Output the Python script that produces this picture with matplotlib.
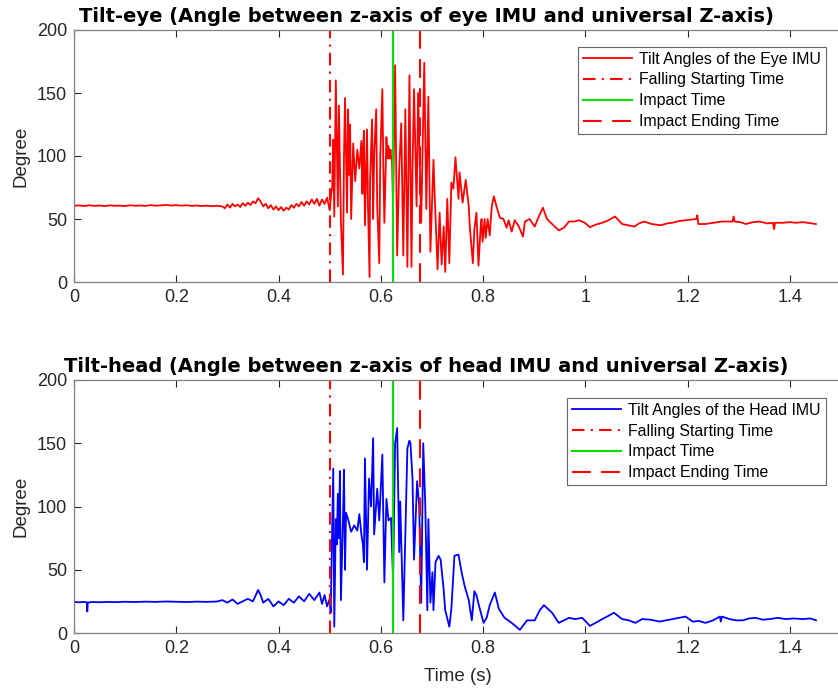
import numpy as np
import matplotlib
matplotlib.use('Agg')
import matplotlib.pyplot as plt

plt.rcParams['font.family'] = ['Liberation Sans', 'DejaVu Sans']

# Event times (s)
t_fall = 0.501
t_impact = 0.623
t_impact_end = 0.677

# Eye IMU tilt (time s, degree)
eye_t = [0.000, 0.010, 0.020, 0.030, 0.040, 0.050, 0.060, 0.070, 0.080, 0.090,
         0.100, 0.110, 0.120, 0.130, 0.140, 0.150, 0.160, 0.170, 0.180, 0.190,
         0.200, 0.210, 0.220, 0.230, 0.240, 0.250, 0.260, 0.270, 0.280, 0.290,
         0.295, 0.300, 0.305, 0.310, 0.315, 0.320, 0.325, 0.330, 0.335, 0.340,
         0.345, 0.350, 0.355, 0.360, 0.365, 0.370, 0.375, 0.380, 0.385, 0.390,
         0.395, 0.400, 0.405, 0.410, 0.415, 0.420, 0.425, 0.430, 0.435, 0.440,
         0.445, 0.450, 0.455, 0.460, 0.465, 0.470, 0.475, 0.480, 0.485, 0.490,
         0.495, 0.500, 0.503, 0.505, 0.507, 0.509, 0.512, 0.516, 0.518, 0.522,
         0.526, 0.528, 0.530, 0.534, 0.536, 0.538, 0.540, 0.542, 0.546, 0.550,
         0.554, 0.558, 0.562, 0.564, 0.565, 0.567, 0.569, 0.573, 0.575, 0.578,
         0.579, 0.583, 0.585, 0.587, 0.591, 0.593, 0.597, 0.599, 0.603, 0.605,
         0.607, 0.611, 0.613, 0.615, 0.617, 0.619, 0.620, 0.622, 0.624, 0.628,
         0.632, 0.636, 0.640, 0.644, 0.648, 0.652, 0.656, 0.660, 0.662, 0.665,
         0.670, 0.673, 0.679, 0.685, 0.689, 0.693, 0.697, 0.703, 0.705, 0.711,
         0.715, 0.719, 0.723, 0.726, 0.730, 0.734, 0.738, 0.742, 0.746, 0.752,
         0.754, 0.760, 0.766, 0.772, 0.774, 0.780, 0.783, 0.787, 0.791, 0.795,
         0.797, 0.799, 0.803, 0.805, 0.809, 0.813, 0.817, 0.821, 0.827, 0.833,
         0.840, 0.846, 0.850, 0.856, 0.862, 0.870, 0.878, 0.882, 0.891, 0.901,
         0.909, 0.917, 0.925, 0.935, 0.948, 0.958, 0.968, 0.978, 0.988, 0.999,
         1.009, 1.020, 1.033, 1.045, 1.058, 1.072, 1.084, 1.096, 1.105, 1.115,
         1.130, 1.147, 1.160, 1.170, 1.185, 1.196, 1.217, 1.219, 1.221, 1.235,
         1.250, 1.268, 1.288, 1.290, 1.292, 1.303, 1.314, 1.328, 1.341, 1.355,
         1.367, 1.369, 1.371, 1.386, 1.400, 1.412, 1.425, 1.435, 1.451]
eye_deg = [60.5, 60.8, 60.3, 60.9, 60.4, 60.7, 60.2, 60.8, 60.5, 60.6,
           60.3, 60.9, 60.5, 60.7, 60.4, 61.0, 60.6, 60.8, 61.1, 60.7,
           61.0, 60.6, 60.9, 60.4, 60.7, 60.3, 60.6, 60.2, 60.5, 60.0,
           58.5, 61.5, 59.0, 62.0, 60.0, 61.5, 59.5, 62.5, 60.5, 63.0,
           61.0, 64.0, 62.5, 66.5, 64.0, 60.0, 62.0, 58.5, 61.0, 57.5,
           60.0, 57.0, 59.5, 56.5, 59.0, 57.5, 61.0, 59.0, 62.0, 60.0,
           63.5, 60.5, 64.0, 61.5, 65.5, 62.0, 66.0, 60.5, 65.5, 62.0,
           67.0, 57.0, 70.0, 75.0, 113.0, 52.0, 160.0, 60.0, 140.0, 48.0,
           6.0, 100.0, 146.0, 55.0, 137.0, 85.0, 125.0, 50.0, 110.0, 80.0,
           105.0, 90.0, 112.0, 70.0, 100.0, 120.0, 45.0, 121.0, 60.0, 4.0,
           80.0, 129.0, 50.0, 100.0, 137.0, 60.0, 15.0, 100.0, 153.0, 90.0,
           47.0, 115.0, 98.0, 108.0, 98.0, 105.0, 100.0, 96.0, 60.0, 172.0,
           21.0, 90.0, 126.0, 21.0, 137.0, 12.0, 164.0, 12.0, 90.0, 153.0,
           60.0, 150.0, 47.0, 174.0, 58.0, 147.0, 24.0, 97.0, 73.0, 10.0,
           55.0, 14.0, 44.0, 8.0, 66.0, 15.0, 79.0, 74.0, 99.0, 66.0,
           87.0, 63.0, 81.0, 60.0, 44.0, 15.0, 42.0, 55.0, 13.0, 42.0,
           50.0, 32.0, 50.0, 35.0, 50.0, 37.0, 60.0, 68.0, 59.0, 51.0,
           50.0, 43.0, 49.0, 40.0, 49.0, 44.0, 36.0, 48.0, 50.0, 44.0,
           52.0, 59.0, 50.0, 46.0, 41.0, 43.0, 48.0, 48.0, 49.0, 47.0,
           43.5, 45.5, 47.0, 49.0, 52.0, 46.0, 45.0, 44.0, 46.5, 48.0,
           46.0, 45.0, 46.5, 47.0, 48.5, 49.0, 50.0, 53.0, 46.0, 46.0,
           47.0, 48.0, 48.0, 52.0, 48.0, 47.5, 46.0, 47.5, 48.0, 46.5,
           47.0, 42.0, 47.0, 47.0, 47.5, 47.0, 47.5, 47.0, 46.0]

# Head IMU tilt (time s, degree)
head_t = [0.000, 0.010, 0.020, 0.025, 0.026, 0.027, 0.035, 0.050, 0.065, 0.080,
          0.100, 0.120, 0.140, 0.160, 0.180, 0.200, 0.220, 0.240, 0.260, 0.280,
          0.290, 0.300, 0.310, 0.320, 0.330, 0.340, 0.350, 0.360, 0.365, 0.370,
          0.380, 0.390, 0.400, 0.410, 0.420, 0.430, 0.440, 0.450, 0.460, 0.470,
          0.480, 0.485, 0.490, 0.495, 0.500, 0.502, 0.507, 0.509, 0.512, 0.514,
          0.516, 0.518, 0.520, 0.522, 0.526, 0.528, 0.530, 0.532, 0.536, 0.542,
          0.548, 0.554, 0.558, 0.562, 0.565, 0.567, 0.569, 0.573, 0.577, 0.581,
          0.585, 0.587, 0.593, 0.597, 0.603, 0.607, 0.611, 0.615, 0.620, 0.624,
          0.628, 0.632, 0.636, 0.638, 0.644, 0.652, 0.656, 0.658, 0.662, 0.665,
          0.671, 0.675, 0.679, 0.683, 0.687, 0.691, 0.693, 0.697, 0.701, 0.703,
          0.707, 0.713, 0.717, 0.723, 0.726, 0.734, 0.738, 0.744, 0.752, 0.758,
          0.764, 0.772, 0.778, 0.783, 0.787, 0.793, 0.801, 0.807, 0.813, 0.823,
          0.831, 0.842, 0.856, 0.872, 0.886, 0.901, 0.911, 0.919, 0.935, 0.948,
          0.968, 0.980, 0.994, 1.009, 1.020, 1.033, 1.045, 1.056, 1.072, 1.085,
          1.098, 1.111, 1.128, 1.145, 1.158, 1.170, 1.183, 1.196, 1.210, 1.222,
          1.235, 1.250, 1.263, 1.265, 1.267, 1.282, 1.295, 1.308, 1.320, 1.333,
          1.347, 1.361, 1.376, 1.392, 1.408, 1.425, 1.440, 1.451]
head_deg = [24.5, 24.3, 24.6, 24.2, 17.0, 24.0, 24.5, 24.3, 24.6, 24.4,
            24.7, 24.5, 24.8, 24.6, 24.9, 24.7, 24.5, 24.8, 24.6, 24.9,
            26.0, 24.0, 26.5, 23.0, 25.0, 27.0, 25.0, 34.0, 30.0, 24.0,
            27.0, 21.0, 25.0, 22.0, 27.0, 24.0, 29.0, 25.0, 31.0, 26.0,
            32.0, 23.0, 30.0, 21.0, 27.0, 16.0, 130.0, 5.0, 90.0, 70.0,
            110.0, 75.0, 128.0, 26.0, 90.0, 129.0, 50.0, 95.0, 90.0, 80.0,
            85.0, 81.0, 94.0, 78.0, 70.0, 56.0, 138.0, 50.0, 122.0, 100.0,
            154.0, 78.0, 114.0, 89.0, 141.0, 40.0, 106.0, 89.0, 91.0, 42.0,
            150.0, 162.0, 64.0, 104.0, 10.0, 146.0, 152.0, 150.0, 122.0, 58.0,
            120.0, 101.0, 24.0, 150.0, 101.0, 18.0, 90.0, 24.0, 48.0, 18.0,
            56.0, 61.0, 58.0, 34.0, 18.0, 5.0, 19.0, 61.0, 62.0, 48.0,
            37.0, 26.0, 10.0, 33.0, 30.0, 20.0, 8.0, 12.0, 22.0, 32.0,
            19.0, 12.0, 8.0, 2.5, 10.0, 10.0, 18.0, 22.0, 16.0, 8.0,
            12.0, 11.0, 12.0, 5.6, 8.0, 11.0, 13.5, 16.0, 11.0, 10.0,
            8.0, 11.0, 10.5, 9.0, 10.0, 11.0, 12.0, 13.0, 9.0, 9.5,
            8.0, 10.0, 13.0, 9.0, 13.0, 11.0, 10.0, 10.0, 11.5, 12.0,
            10.5, 11.0, 12.0, 11.0, 11.5, 11.0, 11.5, 10.0]

fig = plt.figure(figsize=(8.38, 6.91), dpi=100)
ax1 = fig.add_axes([74 / 838, 1 - 282 / 691, 767 / 838, 252 / 691])
ax2 = fig.add_axes([74 / 838, 1 - 633 / 691, 767 / 838, 253 / 691])

panels = [
    (ax1, eye_t, eye_deg, 'r', 'Tilt Angles of the Eye IMU',
     'Tilt-eye (Angle between z-axis of eye IMU and universal Z-axis)', 0.933),
    (ax2, head_t, head_deg, 'b', 'Tilt Angles of the Head IMU',
     'Tilt-head (Angle between z-axis of head IMU and universal Z-axis)', 0.929),
]

for ax, t, deg, col, lab, title, leg_y in panels:
    ax.plot(t, deg, color=col, lw=1.3, label=lab)
    ax.plot([t_fall, t_fall], [0, 200], color='r', lw=1.5, ls=(0, (6, 3, 1, 3)),
            label='Falling Starting Time')
    ax.plot([t_impact, t_impact], [0, 200], color='#00e000', lw=1.5,
            label='Impact Time')
    ax.plot([t_impact_end, t_impact_end], [0, 200], color='r', lw=1.5, ls=(0, (9, 5)),
            label='Impact Ending Time')
    ax.set_xlim(0, 1.5)
    ax.set_ylim(0, 200)
    ax.set_xticks([0, 0.2, 0.4, 0.6, 0.8, 1.0, 1.2, 1.4])
    ax.set_xticklabels(['0', '0.2', '0.4', '0.6', '0.8', '1', '1.2', '1.4'])
    ax.set_yticks([0, 50, 100, 150, 200])
    ax.tick_params(direction='in', length=5, width=0.8, colors='#262626',
                   labelsize=13, top=True, right=False, pad=5)
    for s in ax.spines.values():
        s.set_color('#808080')
        s.set_linewidth(0.9)
    ax.spines['right'].set_visible(False)
    ax.set_ylabel('Degree', fontsize=13.5, color='#262626', labelpad=5)
    ax.set_title(title, fontsize=14, fontweight='bold', family='DejaVu Sans',
                 x=0.459, pad=6)
    leg = ax.legend(loc='upper right', bbox_to_anchor=(0.98, leg_y), fontsize=11.4,
                    frameon=True, fancybox=False, handlelength=3.1,
                    borderpad=0.3, labelspacing=0.37, handletextpad=0.45,
                    borderaxespad=0)
    leg.get_frame().set_edgecolor('#404040')
    leg.get_frame().set_linewidth(0.8)

ax2.set_xlabel('Time (s)', fontsize=13.5, color='#262626', labelpad=8)

fig.savefig('out.png', dpi=100)
